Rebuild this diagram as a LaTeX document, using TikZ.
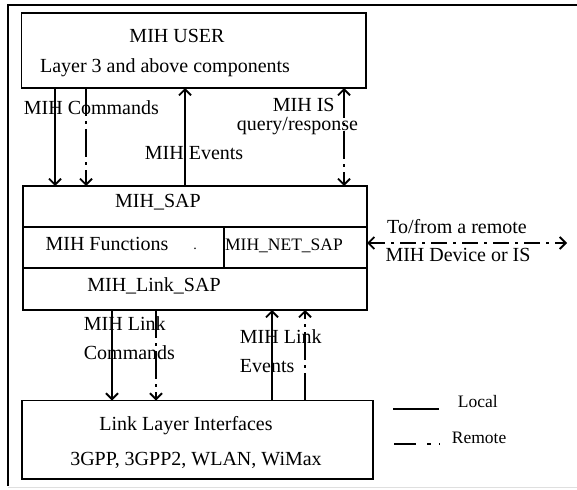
\documentclass[tikz,border=0pt]{standalone}
\usepackage{fontspec}
\setmainfont{Liberation Serif}
\usetikzlibrary{arrows.meta}
\begin{document}
\begin{tikzpicture}[x=1pt,y=-1pt,
  line width=1.8pt,
  >={Straight Barb[length=6pt,width=12pt]},
  box/.style={draw, rectangle, inner sep=0pt, outer sep=0pt},
  txt/.style={font=\fontsize{20}{24}\selectfont, inner sep=0pt, anchor=base},
  txtw/.style={txt, anchor=base west},
  smalltxt/.style={font=\fontsize{17.5}{21}\selectfont, inner sep=0pt, anchor=base},
  remote/.style={dash pattern=on 28pt off 5pt on 3pt off 5pt},
  hremote/.style={dash pattern=on 16pt off 6pt on 3pt off 6pt}
]
\useasboundingbox (0,0) rectangle (577,489);
% outer frame
\draw (577,5) -- (8,5) -- (8,486);
\draw[gray!25, line width=1pt] (8,487.5) -- (577,487.5);

% boxes
\node[box, minimum width=344.5pt, minimum height=74.7pt] (user) at (193.75,50.65) {};
\node[box, minimum width=344pt, minimum height=41pt] (sap) at (195,206.5) {};
\node[box, minimum width=201pt, minimum height=41pt] (fun) at (123.5,247.5) {};
\node[box, minimum width=143pt, minimum height=41pt] (net) at (295.5,247.5) {};
\node[box, minimum width=344pt, minimum height=42pt] (link) at (195,289) {};
\node[box, minimum width=351pt, minimum height=78.5pt] (lli) at (197.5,439.75) {};

% box texts
\node[txt] (t1) at (177,43) {MIH USER};
\node[txt] (t2) at (165,73) {Layer 3 and above components};
\node[txt] (t3) at (158,207) {MIH\_SAP};
\node[txt] (t4) at (107,250.5) {MIH Functions};
\node[txt, font=\fontsize{14}{16}\selectfont] (t4d) at (195,249) {.};
\node[smalltxt] (t5) at (284,250) {MIH\_NET\_SAP};
\node[txt] (t6) at (154,291.5) {MIH\_Link\_SAP};
\node[txt] (t7) at (186,430) {Link Layer Interfaces};
\node[txt] (t8) at (196,465) {3GPP, 3GPP2, WLAN, WiMax};

% connectors upper
\draw[->] (55,0 |- user.south) -- (55,0 |- sap.north);
\draw[->, remote] (86,0 |- user.south) -- (86,0 |- sap.north);
\draw[->] (185,0 |- sap.north) -- (185,0 |- user.south);
\draw[<->, remote] (344,0 |- user.south) -- (344,0 |- sap.north);

% connectors lower
\draw[->] (112,0 |- link.south) -- (112,0 |- lli.north);
\draw[->, remote] (156,0 |- link.south) -- (156,0 |- lli.north);
\draw[->] (272,0 |- lli.north) -- (272,0 |- link.south);
\draw[->, remote] (305,0 |- lli.north) -- (305,0 |- link.south);

% remote horizontal
\coordinate (far) at (567,243);
\draw[<->, hremote] (net.east |- far) -- (far);

% labels
\node[txtw] (l1) at (23,115) {MIH Commands};
\node[txtw] (l2) at (144,160) {MIH Events};
\node[txtw] (l3) at (272,112) {MIH IS};
\node[txtw] (l4) at (236,131) {query/response};
\node[txt] (l5) at (457,233) {To/from a remote};
\node[txt] (l6) at (458,261) {MIH Device or IS};
\node[txtw] (l7) at (83,330) {MIH Link};
\node[txtw] (l8) at (83,359) {Commands};
\node[txtw] (l9) at (239,343) {MIH Link};
\node[txtw] (l10) at (239,372) {Events};

% legend
\coordinate (la) at (393,409);
\coordinate (lb) at (439,409);
\draw (la) -- (lb);
\coordinate (ra) at (394,444);
\coordinate (rb) at (440,444);
\draw[dash pattern=on 22pt off 11pt on 4pt off 8pt on 1pt off 10pt] (ra) -- (rb);
\node[smalltxt, anchor=base west] (lg1) at (457,407) {Local};
\node[smalltxt, anchor=base west] (lg2) at (451,443) {Remote};
\end{tikzpicture}
\end{document}
